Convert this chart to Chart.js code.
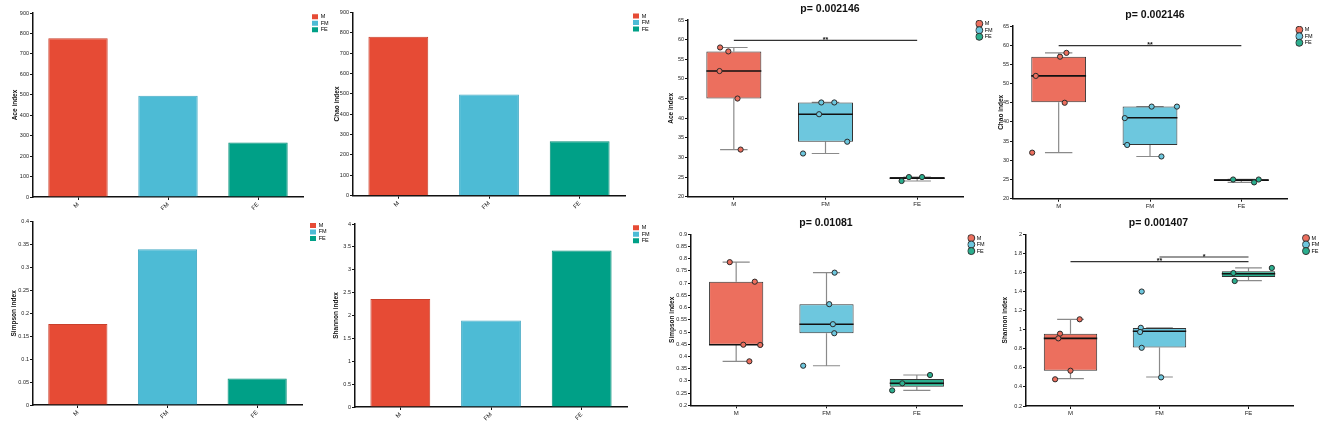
<!DOCTYPE html>
<html>
<head>
<meta charset="utf-8">
<script src="https://cdn.jsdelivr.net/npm/chart.js@4.4.1/dist/chart.umd.min.js"></script>
<style>
  body { margin: 0; background: #fff; width: 1325px; height: 422px; overflow: hidden; position: relative; }
  canvas { position: absolute; }
</style>
</head>
<body>
<script>
const FONT = 'Arial, "Liberation Sans", sans-serif';

// グループと色
const groups = ['M', 'FM', 'FE'];
const barColors = ['#E64B35', '#4DBBD5', '#00A087'];
const barBorders = ['#C9402C', '#45AAC4', '#008E77'];
const boxColors = ['#EC6F5E', '#6DC7DE', '#2BAE8E'];

// 棒グラフの値
const aceMeans = [776, 495, 267];
const chaoMeans = [780, 497, 267];
const simpsonMeans = [0.177, 0.340, 0.058];
const shannonMeans = [2.36, 1.89, 3.42];

// y 軸の範囲 [min, max, step]
const aceBarRange = [0, 900, 100];
const chaoBarRange = [0, 900, 100];
const simpsonBarRange = [0, 0.4, 0.05];
const shannonBarRange = [0, 4, 0.5];
const aceBoxRange = [20, 65, 5];
const chaoBoxRange = [20, 65, 5];
const simpsonBoxRange = [0.2, 0.9, 0.05];
const shannonBoxRange = [0.2, 2, 0.2];

// 箱ひげ図：Ace
const aceQ1 = [45, 34, 24.5];
const aceMedian = [52, 41, 24.7];
const aceQ3 = [57, 44, 25];
const aceLow = [32, 31, 24];
const aceHigh = [58, 44, 25];
const acePoints = [[58, 57, 52, 45, 32], [44, 44, 41, 34, 31], [25, 25, 24]];
const aceJitter = [[-0.15, -0.06, -0.156, 0.04, 0.074], [-0.046, 0.096, -0.07, 0.237, -0.245], [-0.09, 0.053, -0.17]];
const aceSigPairs = [[0, 2]];
const aceSigY = [59.8];
const aceSigText = ['**'];

// 箱ひげ図：Chao
const chaoQ1 = [45.1, 34, 24.6];
const chaoMedian = [52, 41.1, 24.85];
const chaoQ3 = [57, 44, 25.05];
const chaoLow = [32, 31, 24.25];
const chaoHigh = [58, 44, 25.05];
const chaoPoints = [[58, 57, 52, 45, 32], [44, 44, 41, 34, 31], [25, 24.25, 25]];
const chaoJitter = [[0.085, 0.015, -0.25, 0.066, -0.29], [0.018, 0.295, -0.276, -0.25, 0.125], [-0.09, 0.14, 0.19]];
const chaoSigPairs = [[0, 2]];
const chaoSigY = [59.9];
const chaoSigText = ['**'];

// 箱ひげ図：Simpson
const simpsonQ1 = [0.448, 0.495, 0.276];
const simpsonMedian = [0.448, 0.532, 0.29];
const simpsonQ3 = [0.706, 0.614, 0.308];
const simpsonLow = [0.38, 0.362, 0.261];
const simpsonHigh = [0.786, 0.743, 0.324];
const simpsonPoints = [[0.786, 0.706, 0.448, 0.447, 0.38], [0.743, 0.614, 0.532, 0.495, 0.362], [0.324, 0.29, 0.261]];
const simpsonJitter = [[-0.071, 0.206, 0.079, 0.266, 0.146], [0.09, 0.03, 0.071, 0.086, -0.258], [0.146, -0.161, -0.273]];

// 箱ひげ図：Shannon
const shannonQ1 = [0.57, 0.812, 1.553];
const shannonMedian = [0.909, 0.983, 1.587];
const shannonQ3 = [0.958, 1.018, 1.612];
const shannonLow = [0.487, 0.504, 1.514];
const shannonHigh = [1.109, 1.018, 1.647];
const shannonPoints = [[1.109, 0.958, 0.909, 0.57, 0.48], [1.40, 1.02, 0.976, 0.81, 0.50], [1.647, 1.594, 1.51]];
const shannonJitter = [[0.103, -0.118, -0.137, 0, -0.173], [-0.2, -0.21, -0.218, -0.2, 0.018], [0.262, -0.17, -0.155]];
const shannonSigPairs = [[0, 2], [1, 2]];
const shannonSigY = [1.713, 1.762];
const shannonSigText = ['**', '*'];

// パネル配置（キャンバス位置とプロット領域）
const TITLE_H = 10.5 * 1.2 + 5;
const layout = {
  aceBar:     { left: 0,   top: 0,   h: 210, areaL: 33,   areaT: 13,    areaR: 303,  areaB: 197,   gap: 8,   titleX: 15 },
  chaoBar:    { left: 330, top: 0,   h: 210, areaL: 353,  areaT: 12.3,  areaR: 625,  areaB: 195.7, gap: 7,   titleX: 337 },
  aceBox:     { left: 660, top: 0,   h: 210, areaL: 688,  areaT: 20,    areaR: 963,  areaB: 196.7, gap: 12.5, titleX: 671.7 },
  chaoBox:    { left: 990, top: 0,   h: 210, areaL: 1013, areaT: 26,    areaR: 1287, areaB: 198.7, gap: 8.5, titleX: 1001.7 },
  simpsonBar: { left: 0,   top: 210, h: 212, areaL: 33,   areaT: 221.7, areaR: 302,  areaB: 405,   gap: 7,   titleX: 14 },
  shannonBar: { left: 330, top: 210, h: 212, areaL: 355,  areaT: 224,   areaR: 627,  areaB: 407,   gap: 5,   titleX: 336 },
  simpsonBox: { left: 660, top: 210, h: 212, areaL: 691,  areaT: 234.3, areaR: 962,  areaB: 405.3, gap: 5.5, titleX: 672.5 },
  shannonBox: { left: 990, top: 210, h: 212, areaL: 1026, areaT: 234.3, areaR: 1293, areaB: 406,   gap: 9.2, titleX: 1005 },
};

function makeCanvas(p) {
  const w = Math.ceil(p.areaR - p.left + p.gap + 24);
  const c = document.createElement('canvas');
  c.width = w;
  c.height = p.h;
  c.style.left = p.left + 'px';
  c.style.top = p.top + 'px';
  document.body.appendChild(c);
  return { canvas: c, w, legW: w - (p.areaR - p.left) - p.gap };
}

// 0.40 -> 0.4, 1.0 -> 1
const fmt = v => String(+Number(v).toFixed(4));

function yAxis(range, title, p, tickSize) {
  return {
    min: range[0], max: range[1],
    ticks: { stepSize: range[2], callback: fmt, font: { size: tickSize, family: FONT }, color: '#222', padding: 1 },
    grid: { display: true, drawOnChartArea: false, drawTicks: true, tickLength: 3, color: '#111' },
    border: { display: true, color: '#111', width: 1.5 },
    title: {
      display: true, text: title, color: '#111',
      font: { size: 6.5, weight: 'bold', family: FONT },
      padding: { top: p.titleX - p.left - 3.9, bottom: 0 },
    },
    afterFit(s) { s.width = p.areaL - p.left; },
  };
}

function xAxis(p, rotate) {
  return {
    type: 'category',
    offset: true,
    ticks: { font: { size: 6, family: FONT }, color: '#222', minRotation: rotate, maxRotation: rotate, autoSkip: false, padding: 1 },
    grid: { display: true, offset: false, drawOnChartArea: false, tickLength: 3, color: '#111' },
    border: { display: true, color: '#111', width: 1.5 },
    afterFit(s) { s.height = p.top + p.h - p.areaB; },
  };
}

function gapAxis(p) {
  return {
    type: 'linear', position: 'right', axis: 'y',
    grid: { display: false }, border: { display: false }, ticks: { display: false },
    afterFit(s) { s.width = p.gap; },
  };
}

function legendOpts(legW, point) {
  return {
    position: 'right', align: 'start', fullSize: false, maxWidth: legW,
    labels: {
      boxWidth: 6, boxHeight: 5, padding: 1, usePointStyle: point,
      font: { size: 5.5, family: FONT }, color: '#222',
      generateLabels: () => groups.map((g, i) => ({
        text: g,
        fillStyle: point ? boxColors[i] : barColors[i],
        strokeStyle: point ? '#333' : barColors[i],
        lineWidth: point ? 1 : 0,
        pointStyle: 'circle',
        hidden: false,
      })),
    },
  };
}

function renderBar(key, values, range, title) {
  const p = layout[key];
  const { canvas, legW } = makeCanvas(p);
  new Chart(canvas, {
    type: 'bar',
    data: {
      labels: groups,
      datasets: [{
        data: values,
        backgroundColor: barColors,
        borderColor: barBorders,
        borderWidth: 1,
        barPercentage: 0.66,
        categoryPercentage: 1,
      }],
    },
    options: {
      responsive: false,
      animation: false,
      events: [],
      layout: { padding: { top: p.areaT - p.top, left: 0, right: 0, bottom: 0 } },
      plugins: { legend: legendOpts(legW, false), tooltip: { enabled: false }, title: { display: false } },
      scales: { x: xAxis(p, 45), y: yAxis(range, title, p, 5.5), gap: gapAxis(p) },
    },
  });
}

// 線分リスト [x1, y1, x2, y2] を null 区切りの点列に
function segs(list) {
  const out = [];
  list.forEach(s => out.push({ x: s[0], y: s[1] }, { x: s[2], y: s[3] }, { x: s[2], y: null }));
  return out;
}

function starPlugin(pairs, ys, texts) {
  return {
    id: 'sigStars',
    afterDatasetsDraw(chart) {
      const { ctx, scales } = chart;
      ctx.save();
      ctx.font = 'bold 7px ' + FONT;
      ctx.fillStyle = '#111';
      ctx.textAlign = 'center';
      ctx.textBaseline = 'alphabetic';
      pairs.forEach((pr, i) => {
        const x = scales.x2.getPixelForValue((pr[0] + pr[1]) / 2);
        const y = scales.y.getPixelForValue(ys[i]);
        ctx.fillText(texts[i], x, y + 1.5);
      });
      ctx.restore();
    },
  };
}

function renderBox(key, s, range, title, pTitle) {
  const p = layout[key];
  const { canvas, legW } = makeCanvas(p);
  const idx = groups.map((g, i) => i);
  const pairs = s.sigPairs || [];
  const datasets = [
    {
      type: 'scatter', order: 0, xAxisID: 'x2',
      data: idx.flatMap(i => s.points[i].map((v, j) => ({ x: i + s.jitter[i][j], y: v }))),
      pointBackgroundColor: idx.flatMap(i => s.points[i].map(() => boxColors[i])),
      pointBorderColor: '#2a2a2a', pointBorderWidth: 1, pointRadius: 2.6,
    },
    {
      type: 'line', order: 1, xAxisID: 'x2',
      data: segs(idx.map(i => [i - 0.3, s.median[i], i + 0.3, s.median[i]])),
      borderColor: '#111', borderWidth: 1.6, pointRadius: 0, spanGaps: false, fill: false,
    },
    {
      type: 'bar', order: 2, xAxisID: 'x', grouped: false,
      data: idx.map(i => [s.q1[i], s.q3[i]]),
      backgroundColor: boxColors, borderColor: '#333', borderWidth: 1,
      borderSkipped: false, barPercentage: 0.6, categoryPercentage: 1,
    },
    {
      type: 'line', order: 3, xAxisID: 'x2',
      data: segs(idx.flatMap(i => [
        [i, s.q3[i], i, s.high[i]], [i, s.q1[i], i, s.low[i]],
        [i - 0.15, s.high[i], i + 0.15, s.high[i]], [i - 0.15, s.low[i], i + 0.15, s.low[i]],
      ])),
      borderColor: '#8a8a8a', borderWidth: 1.2, pointRadius: 0, spanGaps: false, fill: false,
    },
    {
      type: 'line', order: 4, xAxisID: 'x2',
      data: segs(pairs.map((pr, i) => [pr[0], s.sigY[i], pr[1], s.sigY[i]])),
      borderColor: '#333', borderWidth: 1.2, pointRadius: 0, spanGaps: false, fill: false,
    },
  ];
  new Chart(canvas, {
    type: 'bar',
    data: { labels: groups, datasets },
    options: {
      responsive: false,
      animation: false,
      events: [],
      layout: { padding: { top: p.areaT - p.top - TITLE_H, left: 0, right: 0, bottom: 0 } },
      plugins: {
        legend: legendOpts(legW, true),
        tooltip: { enabled: false },
        title: {
          display: true, text: pTitle, fullSize: true, color: '#111',
          font: { size: 10.5, weight: 'bold', family: FONT },
          padding: { top: 0, bottom: 5 },
        },
      },
      scales: {
        x: xAxis(p, 0),
        x2: { type: 'linear', display: false, offset: false, min: -0.5, max: 2.5, grid: { offset: false } },
        y: yAxis(range, title, p, 5.5),
        gap: gapAxis(p),
      },
    },
    plugins: [starPlugin(pairs, s.sigY || [], s.sigText || [])],
  });
}

renderBar('aceBar', aceMeans, aceBarRange, 'Ace index');
renderBar('chaoBar', chaoMeans, chaoBarRange, 'Chao index');
renderBar('simpsonBar', simpsonMeans, simpsonBarRange, 'Simpson index');
renderBar('shannonBar', shannonMeans, shannonBarRange, 'Shannon index');

renderBox('aceBox', {
  q1: aceQ1, median: aceMedian, q3: aceQ3, low: aceLow, high: aceHigh,
  points: acePoints, jitter: aceJitter, sigPairs: aceSigPairs, sigY: aceSigY, sigText: aceSigText,
}, aceBoxRange, 'Ace index', 'p= 0.002146');

renderBox('chaoBox', {
  q1: chaoQ1, median: chaoMedian, q3: chaoQ3, low: chaoLow, high: chaoHigh,
  points: chaoPoints, jitter: chaoJitter, sigPairs: chaoSigPairs, sigY: chaoSigY, sigText: chaoSigText,
}, chaoBoxRange, 'Chao index', 'p= 0.002146');

renderBox('simpsonBox', {
  q1: simpsonQ1, median: simpsonMedian, q3: simpsonQ3, low: simpsonLow, high: simpsonHigh,
  points: simpsonPoints, jitter: simpsonJitter,
}, simpsonBoxRange, 'Simpson index', 'p= 0.01081');

renderBox('shannonBox', {
  q1: shannonQ1, median: shannonMedian, q3: shannonQ3, low: shannonLow, high: shannonHigh,
  points: shannonPoints, jitter: shannonJitter, sigPairs: shannonSigPairs, sigY: shannonSigY, sigText: shannonSigText,
}, shannonBoxRange, 'Shannon index', 'p= 0.001407');
</script>
</body>
</html>
